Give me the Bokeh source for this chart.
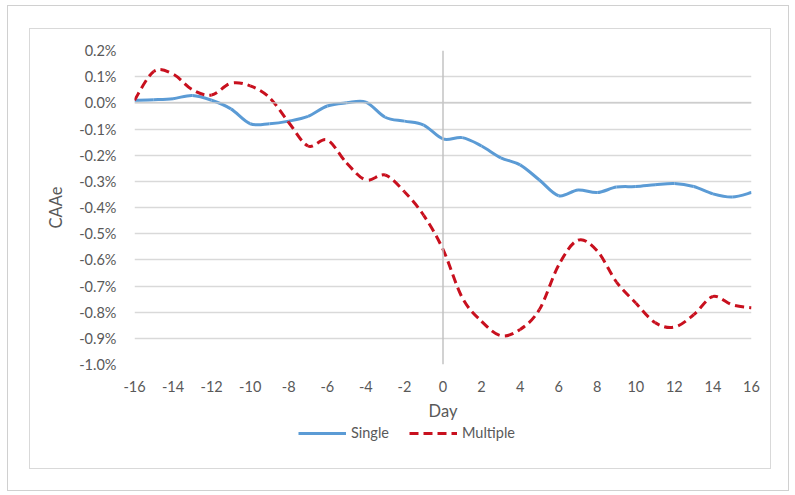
import numpy as np
from bokeh.plotting import figure
from bokeh.models import (ColumnDataSource, FixedTicker, CustomJSTickFormatter, Span,
                          Legend, LegendItem, Range1d, InlineStyleSheet)
from bokeh.layouts import column
from bokeh.embed import file_html
from bokeh.resources import INLINE

# ---------------- data ----------------
days = list(range(-16, 17))
single = [0.010, 0.012, 0.016, 0.028, 0.010, -0.023, -0.080, -0.080, -0.070, -0.052,
          -0.012, 0.000, 0.003, -0.055, -0.070, -0.085,
          -0.138,
          -0.133, -0.165, -0.210, -0.237, -0.295, -0.355, -0.333, -0.343, -0.322,
          -0.320, -0.313, -0.308, -0.320, -0.348, -0.360, -0.343]
multiple = [0.010, 0.120, 0.110, 0.050, 0.030, 0.075, 0.065, 0.020, -0.075, -0.165,
            -0.142, -0.230, -0.295, -0.276, -0.340, -0.430,
            -0.560,
            -0.745, -0.835, -0.890, -0.866, -0.790, -0.620, -0.525, -0.566, -0.685,
            -0.765, -0.840, -0.857, -0.810, -0.740, -0.772, -0.783]
x_ticks = list(range(-16, 17, 2))
y_ticks = [-1.0, -0.9, -0.8, -0.7, -0.6, -0.5, -0.4, -0.3, -0.2, -0.1, 0.0, 0.1, 0.2]
series_names = ["Single", "Multiple"]

FONT = "Lato"
TXT = "#595959"
BLUE, RED = "#5B9BD5", "#C8101E"
FRAME_W, FRAME_H = 617, 314
ML, MR, MT, MB = 134, 43, 50, 56
PERIOD = 14.0


def smooth_source(xs, ys):
    """Bezier segments (Catmull-Rom style, like Excel's smoothed line) through the data points."""
    x = np.asarray(xs, float)
    y = np.asarray(ys, float)
    n = len(x)
    rows = dict(x0=[], y0=[], x1=[], y1=[], cx0=[], cy0=[], cx1=[], cy1=[], off=[])
    sx = FRAME_W / (x_ticks[-1] - x_ticks[0])
    sy = FRAME_H / (y_ticks[-1] - y_ticks[0])
    cum = 0.0
    for i in range(n - 1):
        ip = max(i - 1, 0)
        inx = min(i + 2, n - 1)
        cx0 = x[i] + (x[i + 1] - x[ip]) / 6.0
        cy0 = y[i] + (y[i + 1] - y[ip]) / 6.0
        cx1 = x[i + 1] - (x[inx] - x[i]) / 6.0
        cy1 = y[i + 1] - (y[inx] - y[i]) / 6.0
        rows["x0"].append(x[i]); rows["y0"].append(y[i])
        rows["x1"].append(x[i + 1]); rows["y1"].append(y[i + 1])
        rows["cx0"].append(cx0); rows["cy0"].append(cy0)
        rows["cx1"].append(cx1); rows["cy1"].append(cy1)
        rows["off"].append(int(round(cum % PERIOD)))
        t = np.linspace(0, 1, 12)
        bx = ((1 - t) ** 3) * x[i] + 3 * ((1 - t) ** 2) * t * cx0 + 3 * (1 - t) * t ** 2 * cx1 + t ** 3 * x[i + 1]
        by = ((1 - t) ** 3) * y[i] + 3 * ((1 - t) ** 2) * t * cy0 + 3 * (1 - t) * t ** 2 * cy1 + t ** 3 * y[i + 1]
        cum += float(np.sum(np.hypot(np.diff(bx) * sx, np.diff(by) * sy)))
    return ColumnDataSource(rows)


# ---------------- main chart ----------------
p = figure(frame_width=FRAME_W, frame_height=FRAME_H, output_backend="svg", toolbar_location=None,
           x_range=Range1d(x_ticks[0], x_ticks[-1]), y_range=Range1d(y_ticks[0], y_ticks[-1]),
           min_border_left=ML, min_border_right=MR, min_border_top=MT, min_border_bottom=MB)
p.outline_line_color = None
p.background_fill_color = "white"
p.border_fill_color = "white"

p.xgrid.visible = False
p.ygrid.ticker = FixedTicker(ticks=y_ticks)
p.ygrid.grid_line_color = "#d9d9d9"
p.ygrid.grid_line_width = 1.4

p.xaxis.ticker = FixedTicker(ticks=x_ticks)
p.xaxis.formatter = CustomJSTickFormatter(code="return tick.toFixed(0);")
p.yaxis.ticker = FixedTicker(ticks=y_ticks)
p.yaxis.formatter = CustomJSTickFormatter(code="return tick.toFixed(1) + '%';")
for ax in (p.xaxis[0], p.yaxis[0]):
    ax.axis_line_color = None
    ax.major_tick_line_color = None
    ax.minor_tick_line_color = None
    ax.major_label_text_font = FONT
    ax.major_label_text_font_size = "14.5px"
    ax.major_label_text_color = TXT
    ax.axis_label_text_font = FONT
    ax.axis_label_text_font_size = "16.5px"
    ax.axis_label_text_color = TXT
    ax.axis_label_text_font_style = "normal"
p.xaxis.axis_label = "Day"
p.yaxis.axis_label = "CAAe"
p.xaxis.major_label_standoff = 10
p.xaxis.axis_label_standoff = 6
p.yaxis.major_label_standoff = 12
p.yaxis.axis_label_standoff = 10

p.add_layout(Span(location=0, dimension="height", line_color="#bfbfbf", line_width=1.4))
p.add_layout(Span(location=0, dimension="width", line_color="#c8c8c8", line_width=1.4))

src_s = smooth_source(days, single)
src_m = smooth_source(days, multiple)
p.bezier(x0="x0", y0="y0", x1="x1", y1="y1", cx0="cx0", cy0="cy0", cx1="cx1", cy1="cy1",
         source=src_s, line_color=BLUE, line_width=3)
p.bezier(x0="x0", y0="y0", x1="x1", y1="y1", cx0="cx0", cy0="cy0", cx1="cx1", cy1="cy1",
         source=src_m, line_color=RED, line_width=3, line_dash="9 5",
         line_dash_offset="off")

# ---------------- legend strip (below the chart) ----------------
LEG_H = 65
q = figure(width=ML + FRAME_W + MR, height=LEG_H, output_backend="svg", toolbar_location=None,
           x_axis_type=None, y_axis_type=None,
           x_range=Range1d(x_ticks[0], x_ticks[-1]), y_range=Range1d(10, 11),
           min_border_left=ML, min_border_right=MR, min_border_top=0, min_border_bottom=0)
q.outline_line_color = None
q.background_fill_color = "white"
q.border_fill_color = "white"
q.grid.visible = False
# same series drawn out of this strip's view: they only feed the legend samples
l_s = q.line(x=days, y=single, line_color=BLUE, line_width=3)
l_m = q.line(x=days, y=multiple, line_color=RED, line_width=3, line_dash="9 5")
legend = Legend(items=[LegendItem(label=series_names[0], renderers=[l_s]),
                       LegendItem(label=series_names[1], renderers=[l_m])],
                orientation="horizontal", location=(164, 47),
                label_text_font=FONT, label_text_font_size="14.5px", label_text_color=TXT,
                glyph_width=48, glyph_height=14, label_height=16, label_standoff=5, spacing=20,
                border_line_color=None, background_fill_alpha=0, margin=0, padding=0)
q.add_layout(legend)

lay = column(p, q, spacing=0)
# chart / plot-area borders drawn by CSS (no effect on layout)
lay.stylesheets = [InlineStyleSheet(css="""
:host { position: relative; }
:host::before { content: ""; position: absolute; left: 7px; top: 5px; width: 782px; height: 486px;
  border: 1px solid #d0d0d0; box-sizing: border-box; pointer-events: none; z-index: 5; }
:host::after { content: ""; position: absolute; left: 29px; top: 28px; width: 742px; height: 441px;
  border: 1px solid #d9d9d9; box-sizing: border-box; pointer-events: none; z-index: 5; }
""")]

open("out.html", "w").write(file_html(lay, INLINE))
